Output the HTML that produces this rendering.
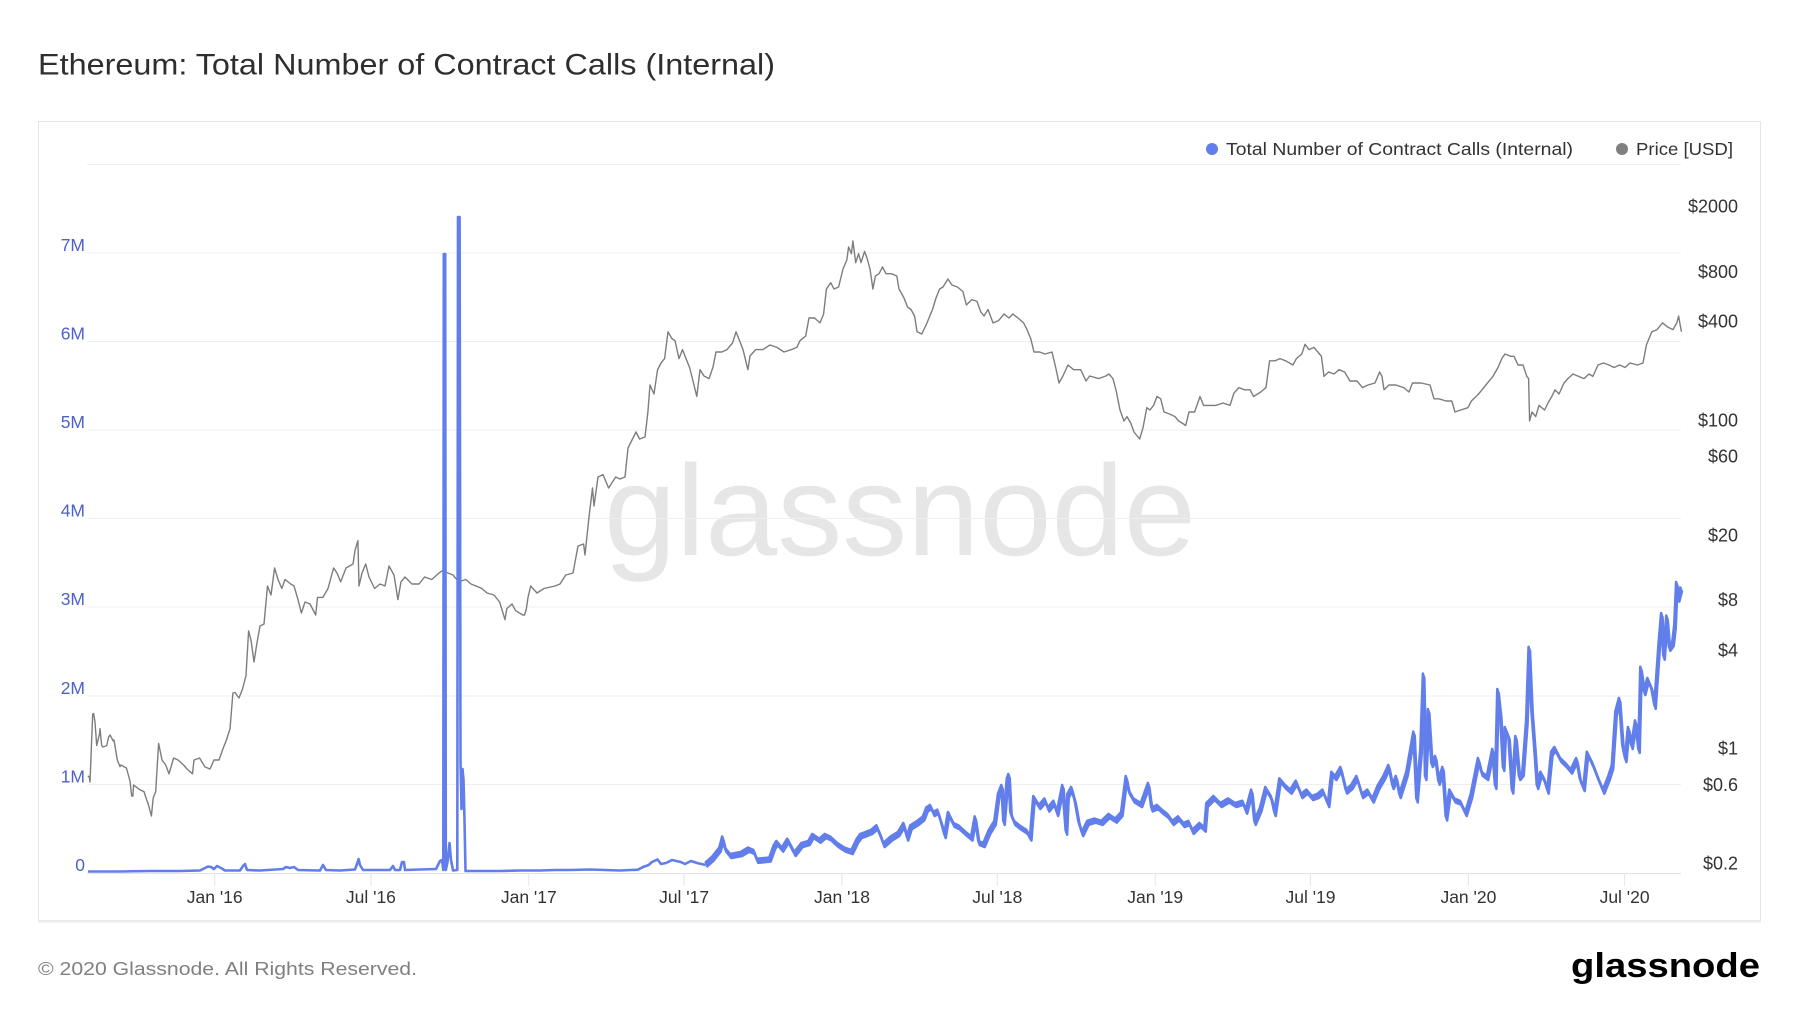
<!DOCTYPE html>
<html>
<head>
<meta charset="utf-8">
<style>
  html,body{margin:0;padding:0;background:#ffffff;}
  body{width:1800px;height:1013px;overflow:hidden;}
  svg{display:block;}
  text{font-family:"Liberation Sans",Arial,sans-serif;}
</style>
</head>
<body>
<svg width="1800" height="1013" viewBox="0 0 1800 1013" xmlns="http://www.w3.org/2000/svg">
  <defs>
    <polyline id="blueB" fill="none" stroke="#627eea" stroke-width="2.6" stroke-linejoin="round" points="
705.7,865 712.9,858.6 720,849.6 722.9,838.5 725.4,849.6 730.7,856 741.4,854 748.6,849.6 754,852 757.5,860.8 770,859.5 774.3,847.4 777,843 782.5,849.6 787.9,840.7 795,854 802,845 809,843 812.9,836 820,840.7 825.4,836 830.7,838.5 837.9,845 845,849.6 852,852 857.5,840.7 861,836 866.4,834 871.8,831.8 877,827.3 880.7,836 884,845 891.4,838.5 898.6,834 904,825 907.5,838.5 911,827.3 918,822.9 923.6,818.4 927,809.5 930.7,807 934,814 937.9,811.7 941.4,822.9 945,836 948.6,814 954,825 959,827.3 966.4,834 971.8,838.5 975.4,818.4 979,843 984,845 989.6,831.8 995,822.9 998.6,796 1002,787 1004,822.9 1007.5,780.4 1009,776 1011,814 1014.6,822.9 1020,827.3 1027,831.8 1030.7,838.5 1034,798 1039.6,807 1045,800.5 1048.6,809.5 1054,802.8 1057.5,814 1062.9,787 1066.4,832.7 1068,796 1071.8,789 1075.4,802.8 1079,822.9 1082.5,834 1087.9,822.9 1095,820.6 1102,822.9 1109,816 1116,820.6 1121.8,814 1126.4,778 1129,791.6 1134,800.5 1141.4,805 1148.6,785 1152,809.5 1157.5,807 1162.5,811.7 1168,816 1173,822.9 1178.6,818.4 1184,825 1189,822.9 1193,831.8 1200,825 1205,829.6 1207,805 1214,798 1221,805 1228.6,800.5 1235.7,805 1243,802.8 1246.4,811.7 1251.8,791.6 1255,822.9 1260.7,809.5 1266,789 1271.4,798 1275,814 1280,780.4 1285.7,787 1291,791.6 1296.4,782.7 1301.8,796 1307,791.6 1312.5,798 1318,796 1323,791.6 1328.6,805 1332,773.8 1335.7,778 1341,769 1346.4,791.6 1351.8,787 1357,778 1362.5,796 1367.9,791.6 1373,800.5 1378.6,787 1384,778 1389,767 1393,787 1396.4,778 1400,796 1407,773.8 1414,733.6 1417,800.5 1421,751 1423.6,675.5 1425.7,778 1428.6,711 1432,765 1435.7,758 1439,782.7 1443,769 1446.4,818.4 1450,791.6 1455,800.5 1460.7,802.8 1466,814 1471.4,796 1475,778 1478.6,760 1482,773.8 1487.5,778 1492.9,751 1495.7,787 1498,691 1500.7,715.7 1503.6,769 1505.4,729 1509,738 1512.5,791.6 1516,738 1519.6,778 1523,773.8 1526.8,722.4 1529.3,648.8 1532,711 1535,751 1537.5,787 1541,773.8 1544.6,780.4 1548,791.6 1551.8,753.7 1555,749 1560.7,760 1566,765 1571.4,771.5 1576.8,760 1580.4,780.4 1584,789 1587.5,753.7 1593,765 1598,778 1603.6,791.6 1609,778 1612.5,767 1616,713.5 1619.6,700 1623,747 1625.7,760 1628.6,729 1632,747 1635.7,722.4 1639,751 1641,668.8 1644.6,693 1648,680 1651.8,689 1655,706.8 1659,648.8 1661.8,615 1664,657.7 1667,617.5 1669.6,648.8 1673,644 1675,626.4 1676.8,584 1678.6,599.6 1681.4,588.5"/>
  </defs>

  <rect x="0" y="0" width="1800" height="1013" fill="#ffffff"/>

  <!-- Title -->
  <text x="38" y="74.5" font-size="29.5" fill="#2e2e2e" textLength="737" lengthAdjust="spacingAndGlyphs">Ethereum: Total Number of Contract Calls (Internal)</text>

  <!-- Chart container -->
  <rect x="38.5" y="121.5" width="1722" height="799" fill="#ffffff" stroke="#e4e4e4" stroke-width="1"/>
  <line x1="38" y1="921.5" x2="1761" y2="921.5" stroke="#ececec" stroke-width="2"/>

  <!-- Watermark -->
  <text x="604" y="555" font-size="129" fill="#e6e6e6" textLength="592" lengthAdjust="spacingAndGlyphs">glassnode</text>

  <!-- Gridlines -->
  <g stroke="#efefef" stroke-width="1">
    <line x1="87" y1="164.5" x2="1681" y2="164.5"/>
    <line x1="87" y1="253" x2="1681" y2="253"/>
    <line x1="87" y1="341.5" x2="1681" y2="341.5"/>
    <line x1="87" y1="430" x2="1681" y2="430"/>
    <line x1="87" y1="518.5" x2="1681" y2="518.5"/>
    <line x1="87" y1="607" x2="1681" y2="607"/>
    <line x1="87" y1="696" x2="1681" y2="696"/>
    <line x1="87" y1="784.5" x2="1681" y2="784.5"/>
  </g>
  <line x1="87" y1="873.5" x2="1681" y2="873.5" stroke="#e2e2e2" stroke-width="1"/>

  <!-- X ticks -->
  <g stroke="#e6e6e6" stroke-width="1">
    <line x1="214.7" y1="873" x2="214.7" y2="886"/>
    <line x1="370.9" y1="873" x2="370.9" y2="886"/>
    <line x1="528.8" y1="873" x2="528.8" y2="886"/>
    <line x1="684.1" y1="873" x2="684.1" y2="886"/>
    <line x1="842" y1="873" x2="842" y2="886"/>
    <line x1="997.3" y1="873" x2="997.3" y2="886"/>
    <line x1="1155.2" y1="873" x2="1155.2" y2="886"/>
    <line x1="1310.5" y1="873" x2="1310.5" y2="886"/>
    <line x1="1468.4" y1="873" x2="1468.4" y2="886"/>
    <line x1="1624.6" y1="873" x2="1624.6" y2="886"/>
  </g>

  <!-- Price line -->
  <polyline fill="none" stroke="#7d7d7d" stroke-width="1.4" stroke-linejoin="round" points="
87.9,776 89.3,777 90,782 92.7,714 93.6,713.5 95,722 96.7,745.6 99.6,733.6 100,728.7 101.7,745.6 103,747 106.7,745.6 108.6,737 110,735 113.3,741 114,740 117.3,760 120,766.6 121,765 126.4,768 130,781 131.7,796 132.9,796 133.6,785 139,789 140,789.8 144,791.6 146.7,800 147.9,802.8 151.4,816 153.2,798 155.7,791.6 158.6,743.4 162,760 165.7,765 169,773.8 173.6,758 178,760 183.6,765 187,769 192.5,773.8 194,760 199.6,758 205,767 210,769 214,760 219,760 222.9,749 226.4,740 230,729 232.9,693 235,692.5 239,698 242.5,689 246,675.5 248.6,631 251,640 254,662 256.8,644 260,626 264,624 267.5,586 271,595 274.6,568 278,579.5 281.8,588.5 285,579.5 290.7,584 294,586 298,599.6 301.4,613 305,602 310,604 315.7,615 317.5,597.4 322.9,597.4 328,588.5 333.6,568 337,573 340.7,581.8 346,568 353,564 355,550.5 357.9,540.7 359,586 362,573 365.7,564 369,577 374.6,588.5 380,584 385,586 389,566 394,575 397.9,599.6 401,581.8 405,577 412,584 419,584 424.6,577 431.8,579.5 439,573 442.5,570.6 448,573 453,575 458.6,581.8 465.7,579.5 471,584 476,586 481.8,588.5 487,593 494,595 499.6,602 505,619.7 506.8,608.6 512,604 515.7,610.8 522.9,615 524.6,615 526.4,608.6 528,597.4 530.7,586 537,593 544,588.5 555,586 560,584 565.7,575 573,573 578,546 583.6,544 585,555 589,517 592.5,488 594,506 598,477 603,474.6 608.6,488 615.7,477
620,479 625,477 628,448 632.5,439 636,432 639.6,439 645,437 647.9,412 650,385 654,394 657.5,370 661,363 664.6,358.6 668,331.8 671.8,338.5 675,340.7 679,358.6 682.5,349.6 686,358.6 689.6,367.5 693,381 696.8,396.5 700,369.7 704,376 709,378.6 712.9,367.5 716,352 721.8,352 727,349.6 732.5,343 736,331.8 739.6,340.7 743,349.6 747.9,369.7 750,356 755.7,349.6 762.9,349.6 770,345 777,347.4 784,352 791.4,349.6 796.8,347.4 800,340.7 805.7,336 809,318 814.6,318 820,322.9 823.6,314 826.4,289 830.7,282.7 834,289 838.6,287 843,269 846.8,260 848.6,247 851.4,253.7 852.9,241 855.7,262.6 858.6,253.7 861,262.6 864.6,251.4 867,258 870,269 872.9,289 875.4,276 879,273.7 882.5,267 886,273.7 891.4,273.7 896.8,276 899,289 904,298 907.5,307 911,309.5 914.6,316 917,331.8 921.8,334 927,322.9 932.5,309.5 936,298 939.6,289 943,287 947.9,279 952,285 957.5,287 962.9,291.6 966.4,305 971.8,299.6 977,301.4 980.7,311.7 984,316 988,309.5 993,322.9 998.6,320.6 1004,314 1009,318 1012.9,314 1018,318 1023.6,322.9 1027,329.6 1030.7,338.5 1034,352 1039.6,352 1045,354 1052,352 1055.7,367.5 1059,383 1062.9,376 1068,365 1073.6,369.7 1080.7,369.7 1086,381 1089.6,376 1098.6,378.6 1105.7,376 1109,374 1112.9,378.6 1116,390 1120,410 1124,421 1127,416.6 1130.7,423 1134,432 1139.6,439 1143,427.8 1146.8,407.7
1150,410 1153.6,405.4 1157,396.5 1160.7,398.8 1164,412 1169.6,414 1175,416.6 1178.6,421 1182,423 1185.7,425.5 1189,412 1194.6,412 1200,396.5 1203.6,405.4 1209,405.4 1216,405.4 1223,403 1230,405.4 1234,393 1239,387.6 1244.6,389.8 1250,389.8 1253.6,396.5 1260.7,392 1266,387.6 1269.6,360.8 1275,360.8 1280,358.6 1285.7,360.8 1292.9,365 1296.4,358.6 1301.8,354 1305,344.3 1309,349.6 1314,347.4 1317.9,352 1321.4,356.3 1324,376.4 1328.6,372 1334,374 1339,369.7 1344.6,372 1350,381 1357,381 1362.5,387.6 1367.9,385 1375,383 1379.6,372 1382,376.4 1384,389.8 1389,385 1396,385 1403.6,387.6 1409,392 1412.5,383 1421,383 1430,385 1434,398.8 1439,398.8 1446,401 1451.8,401 1455,412 1460.7,410 1467.9,407.7 1471.4,401 1478.6,394 1482,389.8 1487.5,383 1492.9,376.4 1498,367.5 1501.8,358.6 1505,354 1510.7,356.3 1514,356.3 1518,365 1523,365 1526.8,376.4 1528.6,378.6 1529.6,421 1532,412 1535.7,416.6 1539,405.4 1544.6,410 1548,403 1551.8,396.5 1555,389.8 1559,394 1564,383 1567.9,378.6 1573,374 1578.6,376.4 1584,378.6 1589,374 1592.9,376.4 1598,365 1603.6,363 1609,365 1614,367.5 1619.6,365 1625,367.5 1630,363 1637.5,365 1643,363 1646.4,345 1651.8,331.8 1657,329.6 1662.5,322.9 1668,327.3 1673,329.6 1676.8,322.9 1678.6,316 1681.4,331.8"/>

  <!-- Contract calls line: flat early part -->
  <polyline fill="none" stroke="#627eea" stroke-width="2.6" stroke-linejoin="round" points="
88,871.5 120,871.5 150,871 180,871 200,870.5 205,868 208,866.5 211,867 214,869 217,866 221,868 225,870.5 240,870.5 243,866 245,864 247,870 260,870.5 283,869 286,867 290,868 294,867 298,870 320,870.5 323,865 326,870 340,870.5 355,869.5 357,864 358.6,859 360,865 363,870 390,870 393,866 395,870 400,870 402,862 404,862 405,870 436,869 438,865 440,861 442,860 443.3,870 443.8,254 445.2,254 445.8,870 447.5,862 449.5,843 451,860 453,870.5 457.3,870 458,217 459.6,217 460.5,760 461.5,809 462.5,769 463.5,780 464.5,820 465.5,871 480,871 500,871 520,870.5 540,870.5 555,870 570,870 590,869.5 605,870 620,870.5 630,870 637.9,869.7 643,867 648.6,865 652,862 657.5,859.5 661,864 666,863 672,860 680.7,862 685,864 691,861 697,863 705.7,865"/>
  <!-- Contract calls line: noisy band (overlapping copies) -->
  <use href="#blueB" transform="translate(0.7,2)"/>
  <use href="#blueB" transform="translate(-0.7,-2)"/>
  <use href="#blueB"/>

  <!-- Left axis labels -->
  <g font-size="17.5" fill="#4d61c6" text-anchor="end">
    <text x="85" y="871">0</text>
    <text x="85" y="782.5">1M</text>
    <text x="85" y="694">2M</text>
    <text x="85" y="605">3M</text>
    <text x="85" y="516.5">4M</text>
    <text x="85" y="428">5M</text>
    <text x="85" y="339.5">6M</text>
    <text x="85" y="251">7M</text>
  </g>

  <!-- Right axis labels -->
  <g font-size="18" fill="#333333" text-anchor="end">
    <text x="1738" y="212.5">$2000</text>
    <text x="1738" y="278">$800</text>
    <text x="1738" y="327.5">$400</text>
    <text x="1738" y="426.5">$100</text>
    <text x="1738" y="462.5">$60</text>
    <text x="1738" y="541.5">$20</text>
    <text x="1738" y="606">$8</text>
    <text x="1738" y="656.5">$4</text>
    <text x="1738" y="754.5">$1</text>
    <text x="1738" y="791">$0.6</text>
    <text x="1738" y="869.5">$0.2</text>
  </g>

  <!-- X axis labels -->
  <g font-size="17.5" fill="#333333" text-anchor="middle">
    <text x="214.7" y="903">Jan '16</text>
    <text x="370.9" y="903">Jul '16</text>
    <text x="528.8" y="903">Jan '17</text>
    <text x="684.1" y="903">Jul '17</text>
    <text x="842" y="903">Jan '18</text>
    <text x="997.3" y="903">Jul '18</text>
    <text x="1155.2" y="903">Jan '19</text>
    <text x="1310.5" y="903">Jul '19</text>
    <text x="1468.4" y="903">Jan '20</text>
    <text x="1624.6" y="903">Jul '20</text>
  </g>

  <!-- Legend -->
  <circle cx="1212" cy="149" r="6" fill="#627eea"/>
  <text x="1226" y="155" font-size="17.5" fill="#333333" textLength="347" lengthAdjust="spacingAndGlyphs">Total Number of Contract Calls (Internal)</text>
  <circle cx="1622" cy="149" r="6" fill="#808080"/>
  <text x="1636" y="155" font-size="17.5" fill="#333333" textLength="97" lengthAdjust="spacingAndGlyphs">Price [USD]</text>

  <!-- Footer -->
  <text x="38" y="975" font-size="18.5" fill="#808080" textLength="379" lengthAdjust="spacingAndGlyphs">© 2020 Glassnode. All Rights Reserved.</text>
  <text x="1571" y="977" font-size="34" font-weight="bold" fill="#000000" textLength="189" lengthAdjust="spacingAndGlyphs">glassnode</text>
</svg>
</body>
</html>
